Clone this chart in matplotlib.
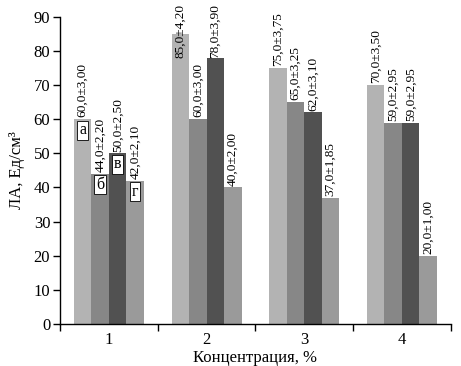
import matplotlib
matplotlib.use("Agg")
import matplotlib.pyplot as plt
import numpy as np

plt.rcParams['font.family'] = ['Liberation Serif', 'DejaVu Serif']

groups = ["1", "2", "3", "4"]
series_a = [60.0, 85.0, 75.0, 70.0]
series_b = [44.0, 60.0, 65.0, 59.0]
series_c = [50.0, 78.0, 62.0, 59.0]
series_d = [42.0, 40.0, 37.0, 20.0]
err_a = ["3,00", "4,20", "3,75", "3,50"]
err_b = ["2,20", "3,00", "3,25", "2,95"]
err_c = ["2,50", "3,90", "3,10", "2,95"]
err_d = ["2,10", "2,00", "1,85", "1,00"]
letters = ["а", "б", "в", "г"]
colors = ["#b3b3b3", "#878787", "#515151", "#9a9a9a"]

fig = plt.figure(figsize=(4.61, 3.66), dpi=100)
ax = fig.add_axes([0.130, 0.115, 0.848, 0.839])

x = np.arange(1, len(groups) + 1)
w = 0.179
offsets = [-1.5 * w, -0.5 * w, 0.5 * w, 1.5 * w]
allv = [series_a, series_b, series_c, series_d]
alle = [err_a, err_b, err_c, err_d]

for k in range(4):
    ax.bar(x + offsets[k], allv[k], width=w, color=colors[k], linewidth=0)
    for i, v in enumerate(allv[k]):
        label = f"{v:.1f}".replace(".", ",") + "±" + alle[k][i]
        ybot = min(v + 0.5, 78.0)
        if ybot < v:
            ax.text(x[i] + offsets[k], ybot, label, rotation=90, ha="center", va="bottom",
                    fontsize=9.6, clip_on=False)
        else:
            ax.text(x[i] + offsets[k], ybot, label, rotation=90, ha="center", va="bottom",
                    fontsize=9.6, clip_on=False,
                    bbox=dict(facecolor="white", edgecolor="none", pad=0.3))
    ax.text(x[0] + offsets[k], allv[k][0] - 3.2, letters[k], ha="center", va="center",
            fontsize=11.5, bbox=dict(facecolor="white", edgecolor="black", linewidth=0.6, pad=1.2))

ax.set_xlim(0.5, 4.5)
ax.set_ylim(0, 90)
ax.set_yticks(np.arange(0, 91, 10))
ax.set_xticks([0.5, 1.5, 2.5, 3.5, 4.5])
ax.set_xticklabels([])
ax.set_xticks(x, minor=True)
ax.set_xticklabels(groups, minor=True, fontsize=12)
ax.tick_params(axis="x", which="minor", length=0, pad=6)
ax.tick_params(axis="x", which="major", length=5, direction="out", width=1)
ax.tick_params(axis="y", length=5, direction="out", width=1, labelsize=12, pad=2)
ax.spines["top"].set_visible(False)
ax.spines["right"].set_visible(False)
ax.spines["left"].set_linewidth(1)
ax.spines["bottom"].set_linewidth(1)

ax.set_xlabel("Концентрация, %", fontsize=12, labelpad=1)
ax.set_ylabel("ЛА, Ед/см³", fontsize=12, labelpad=6)

fig.savefig("out.png", dpi=100)
